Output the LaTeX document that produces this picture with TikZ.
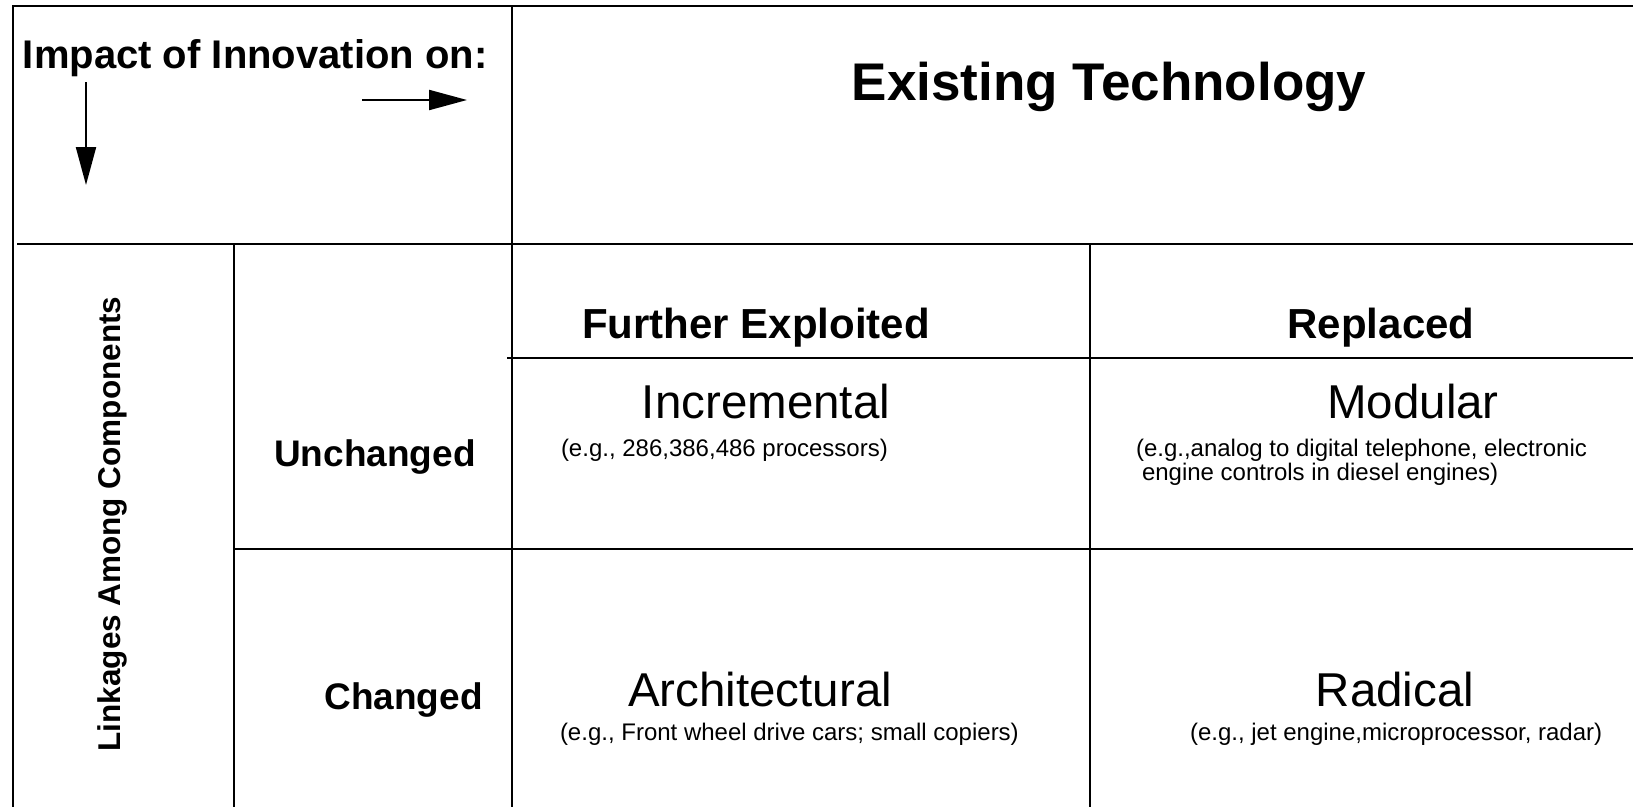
\documentclass[tikz,border=0pt]{standalone}
\usepackage{fontspec}
\setmainfont{Liberation Sans}
\usetikzlibrary{arrows.meta}

\tikzset{
  grid/.style={line width=2.2pt, line cap=rect},
  txt/.style={inner sep=0pt, outer sep=0pt},
  hugebold/.style={txt, font=\fontsize{53}{60}\selectfont\bfseries},
  titlebold/.style={txt, font=\fontsize{40}{46}\selectfont\bfseries},
  headbold/.style={txt, font=\fontsize{42}{48}\selectfont\bfseries},
  rowbold/.style={txt, font=\fontsize{37}{42}\selectfont\bfseries},
  sidebold/.style={txt, font=\fontsize{31.5}{36}\selectfont\bfseries},
  kind/.style={txt, font=\fontsize{47.5}{54}\selectfont},
  example/.style={txt, font=\fontsize{24}{28}\selectfont},
  pointer/.style={line width=2.2pt, -{Triangle[length=38pt, width=20pt]}},
}

\begin{document}
\begin{tikzpicture}[x=1pt, y=-1pt]
  \useasboundingbox (0,0) rectangle (1633,806);

  % table rules
  \draw[grid] (13,806) -- (13,6) -- (1640,6);
  \draw[grid] (512,6) -- (512,810);
  \draw[grid] (18,244) -- (1640,244);
  \draw[grid] (234,244) -- (234,810);
  \draw[grid] (508,358) -- (1640,358);
  \draw[grid] (1090,244) -- (1090,810);
  \draw[grid] (234,549) -- (1640,549);

  % corner cell: heading and direction arrows
  \node[titlebold, anchor=base west] (impact) at (23,68) {Impact of Innovation on:};
  \coordinate (downA) at (86,82);
  \coordinate (downB) at (86,185);
  \coordinate (rightA) at (362,100);
  \coordinate (rightB) at (467,100);
  \draw[pointer] (downA) -- (downB);
  \draw[pointer] (rightA) -- (rightB);

  % column headings
  \node[hugebold, anchor=base] (existing) at (1109,100) {Existing Technology};
  \node[headbold, anchor=base] (further) at (756,338) {Further Exploited};
  \node[headbold, anchor=base] (replaced) at (1381,338) {Replaced};

  % row headings
  \node[sidebold, anchor=base, rotate=90] (linkages) at (120,524) {Linkages Among Components};
  \node[rowbold, anchor=base] (unchanged) at (375,466) {Unchanged};
  \node[rowbold, anchor=base] (changed) at (403.5,709) {Changed};

  % quadrants
  \node[kind, anchor=base] (incremental) at (766,418) {Incremental};
  \node[example, anchor=base west] (incrEx) at (561,456) {(e.g., 286,386,486 processors)};

  \node[kind, anchor=base] (modular) at (1413,418) {Modular};
  \node[example, anchor=base west] (modEx) at (1136,456) {(e.g.,analog to digital telephone, electronic};
  \node[example, anchor=base west] (modEx2) at (1142,480) {engine controls in diesel engines)};

  \node[kind, anchor=base] (architectural) at (760,706) {Architectural};
  \node[example, anchor=base west] (archEx) at (560,740) {(e.g., Front wheel drive cars; small copiers)};

  \node[kind, anchor=base] (radical) at (1395,706) {Radical};
  \node[example, anchor=base west] (radEx) at (1190,740) {(e.g., jet engine,microprocessor, radar)};
\end{tikzpicture}
\end{document}
